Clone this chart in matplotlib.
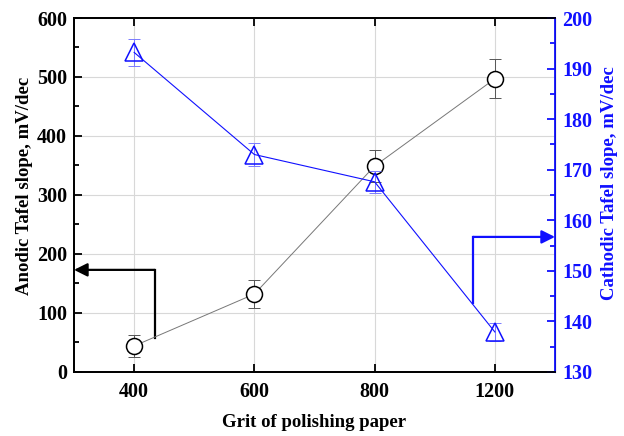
import matplotlib
matplotlib.use("Agg")
import matplotlib.pyplot as plt
import numpy as np

# grit sizes and measured Tafel slopes
grits = ["400", "600", "800", "1200"]
anodic = [44, 132, 349, 497]
anodic_err = [18, 23, 27, 33]
cathodic = [193.2, 173.0, 167.6, 137.9]
cathodic_err = [2.6, 2.2, 2.2, 1.8]

plt.rcParams["font.family"] = ["Liberation Serif", "DejaVu Serif"]
plt.rcParams["font.weight"] = "bold"

x = np.arange(len(grits))
blue = "#1010ff"

fig = plt.figure(figsize=(6.24, 4.36), dpi=100)
ax = fig.add_axes([0.1186, 0.147, 0.7708, 0.8117])
ax2 = ax.twinx()

ax.set_xlim(-0.5, 3.5)
ax.set_ylim(0, 600)
ax2.set_ylim(130, 200)

ax.grid(True, color="#d8d8d8", lw=0.8)
ax.set_axisbelow(True)

# anodic series
ax.errorbar(x, anodic, yerr=anodic_err, fmt="none", ecolor="#555555",
            elinewidth=0.7, capsize=4, capthick=0.7, zorder=2)
ax.plot(x, anodic, color="#777777", lw=0.7, zorder=3)
ax.plot(x, anodic, "o", ms=11.5, mfc="white", mec="black", mew=1.1, zorder=4)

# cathodic series
ax2.errorbar(x, cathodic, yerr=cathodic_err, fmt="none", ecolor="#7a7aff",
             elinewidth=0.7, capsize=4, capthick=0.7, zorder=2)
ax2.plot(x, cathodic, color=blue, lw=0.8, zorder=3)
ax2.plot(x, cathodic, "^", ms=13, mfc="none", mec=blue, mew=1.1, zorder=4)

# arrows pointing to each axis
ax.plot([0.17, 0.17], [58, 173], color="black", lw=1.6, clip_on=False)
ax.annotate("", xy=(-0.5, 173), xytext=(0.17, 173),
            arrowprops=dict(arrowstyle="-|>", color="black", lw=1.6,
                            mutation_scale=20, shrinkA=0, shrinkB=0))
ax2.plot([2.82, 2.82], [143.7, 156.7], color=blue, lw=1.6, clip_on=False)
ax2.annotate("", xy=(3.5, 156.7), xytext=(2.82, 156.7),
             arrowprops=dict(arrowstyle="-|>", color=blue, lw=1.6,
                             mutation_scale=20, shrinkA=0, shrinkB=0))

ax.set_xticks(x)
ax.set_xticklabels(grits)
ax.set_yticks(np.arange(0, 601, 100))
ax.set_yticks(np.arange(50, 600, 100), minor=True)
ax2.set_yticks(np.arange(130, 201, 10))
ax2.set_yticks(np.arange(135, 200, 10), minor=True)

ax.tick_params(axis="both", which="both", direction="in", labelsize=14.5,
               width=1.3, top=True)
ax.tick_params(which="major", length=6)
ax.tick_params(which="minor", length=3.5)
ax.tick_params(axis="x", pad=7)
ax.tick_params(axis="y", pad=5)
ax2.tick_params(axis="y", which="both", direction="in", labelsize=14.5,
                width=1.3, colors=blue, pad=5)
ax2.tick_params(which="major", length=6)
ax2.tick_params(which="minor", length=3.5)

for side in ["left", "bottom", "top"]:
    ax.spines[side].set_linewidth(1.3)
ax2.spines["right"].set_color(blue)
ax2.spines["right"].set_linewidth(1.3)
for side in ["left", "bottom", "top"]:
    ax2.spines[side].set_linewidth(1.3)

ax.set_xlabel("Grit of polishing paper", fontsize=13.5, fontweight="bold",
              labelpad=9)
ax.set_ylabel("Anodic Tafel slope, mV/dec", fontsize=13.5, fontweight="bold")
ax2.set_ylabel("Cathodic Tafel slope, mV/dec", fontsize=13.5,
               fontweight="bold", color=blue)
ax.yaxis.set_label_coords(-0.085, 0.525)
ax2.yaxis.set_label_coords(1.095, 0.534)

fig.savefig("out.png", dpi=100)
